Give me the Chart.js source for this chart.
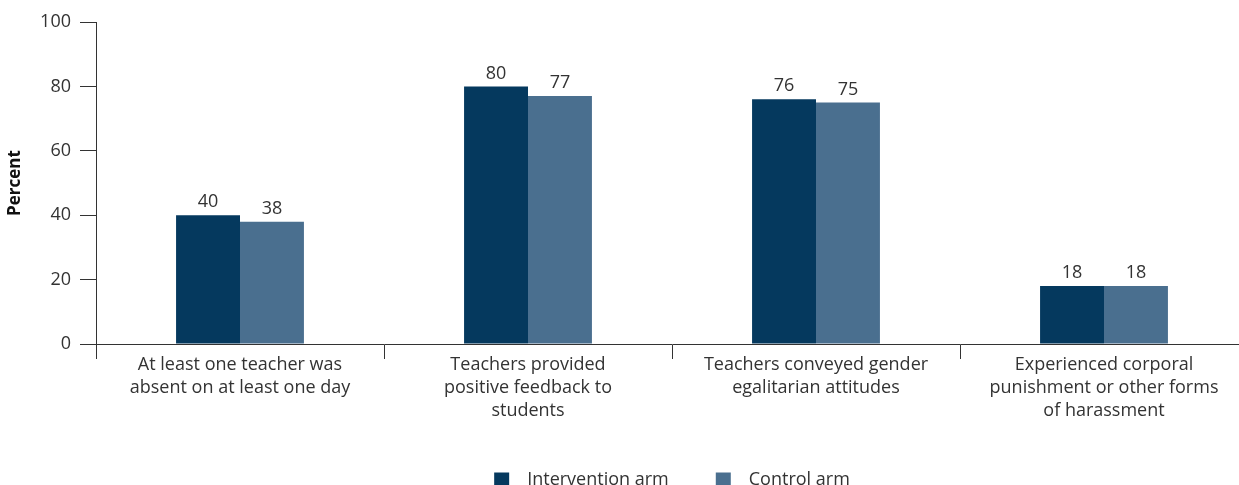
<!DOCTYPE html>
<html>
<head>
<meta charset="utf-8">
<script src="https://cdn.jsdelivr.net/npm/chart.js@4"></script>
<style>
    html, body { margin: 0; padding: 0; background: #fff; overflow: hidden; }
    #wrap { width: 1239px; height: 485px; overflow: hidden; }
    #box { width: 1252px; height: 499px; position: relative; }
</style>
</head>
<body>
<div id="wrap"><div id="box"><canvas id="barChart"></canvas></div></div>
<script>
const categories = [
    ['At least one teacher was', 'absent on at least one day'],
    ['Teachers provided', 'positive feedback to', 'students'],
    ['Teachers conveyed gender', 'egalitarian attitudes'],
    ['Experienced corporal', 'punishment or other forms', 'of harassment']
];
const interventionArm = [40, 80, 76, 18];
const controlArm = [38, 77, 75, 18];
const yTicks = [0, 20, 40, 60, 80, 100];

const fontFamily = '"Open Sans", "Liberation Sans", sans-serif';
const textColor = '#333333';
const axisColor = '#333333';

// value labels above each bar
const barLabels = {
    id: 'barLabels',
    afterDatasetsDraw(chart) {
        const ctx = chart.ctx;
        ctx.save();
        ctx.font = '18px ' + fontFamily;
        ctx.fillStyle = textColor;
        ctx.textAlign = 'center';
        ctx.textBaseline = 'bottom';
        chart.data.datasets.forEach((ds, i) => {
            chart.getDatasetMeta(i).data.forEach((bar, j) => {
                ctx.fillText(ds.data[j], bar.x, bar.y - 4);
            });
        });
        ctx.restore();
    }
};

document.addEventListener("DOMContentLoaded", function () {
    const ctx = document.getElementById('barChart').getContext("2d");
    new Chart(ctx, {
        type: 'bar',
        data: {
            labels: categories,
            datasets: [{
                label: '\u2002Intervention arm',
                data: interventionArm,
                backgroundColor: '#05395e',
                categoryPercentage: 0.444,
                barPercentage: 1.0
            }, {
                label: '\u2002Control arm',
                data: controlArm,
                backgroundColor: '#4a6f8f',
                categoryPercentage: 0.444,
                barPercentage: 1.0
            }]
        },
        options: {
            responsive: true,
            maintainAspectRatio: false,
            animation: false,
            layout: { padding: { top: 22, right: 4, left: 0, bottom: 0 } },
            plugins: {
                tooltip: { enabled: false },
                legend: {
                    position: 'bottom',
                    fullSize: false,
                    labels: {
                        boxWidth: 15,
                        boxHeight: 15,
                        padding: 47,
                        color: textColor,
                        font: { family: fontFamily, size: 18 }
                    }
                }
            },
            scales: {
                x: {
                    afterFit(scale) {
                        scale.height = 80;
                    },
                    grid: {
                        offset: true,
                        drawOnChartArea: false,
                        tickLength: 15,
                        color: axisColor,
                        tickColor: axisColor
                    },
                    border: { color: axisColor, width: 1 },
                    ticks: {
                        color: textColor,
                        padding: -6,
                        maxRotation: 0,
                        autoSkip: false,
                        font: { family: fontFamily, size: 18, lineHeight: 1.28 }
                    }
                },
                y: {
                    min: 0,
                    max: 100,
                    afterBuildTicks(scale) {
                        scale.ticks = yTicks.map(v => ({ value: v }));
                    },
                    afterFit(scale) {
                        scale.width = 96;
                    },
                    grid: {
                        drawOnChartArea: false,
                        tickLength: 16,
                        color: axisColor,
                        tickColor: axisColor
                    },
                    border: { color: axisColor, width: 1 },
                    ticks: {
                        color: textColor,
                        padding: 9,
                        font: { family: fontFamily, size: 18 }
                    },
                    title: {
                        display: true,
                        text: 'Percent',
                        color: '#111111',
                        padding: { top: 5, bottom: 2 },
                        font: { family: fontFamily, size: 17, weight: 'bold' }
                    }
                }
            }
        },
        plugins: [barLabels]
    });
});
</script>
</body>
</html>
